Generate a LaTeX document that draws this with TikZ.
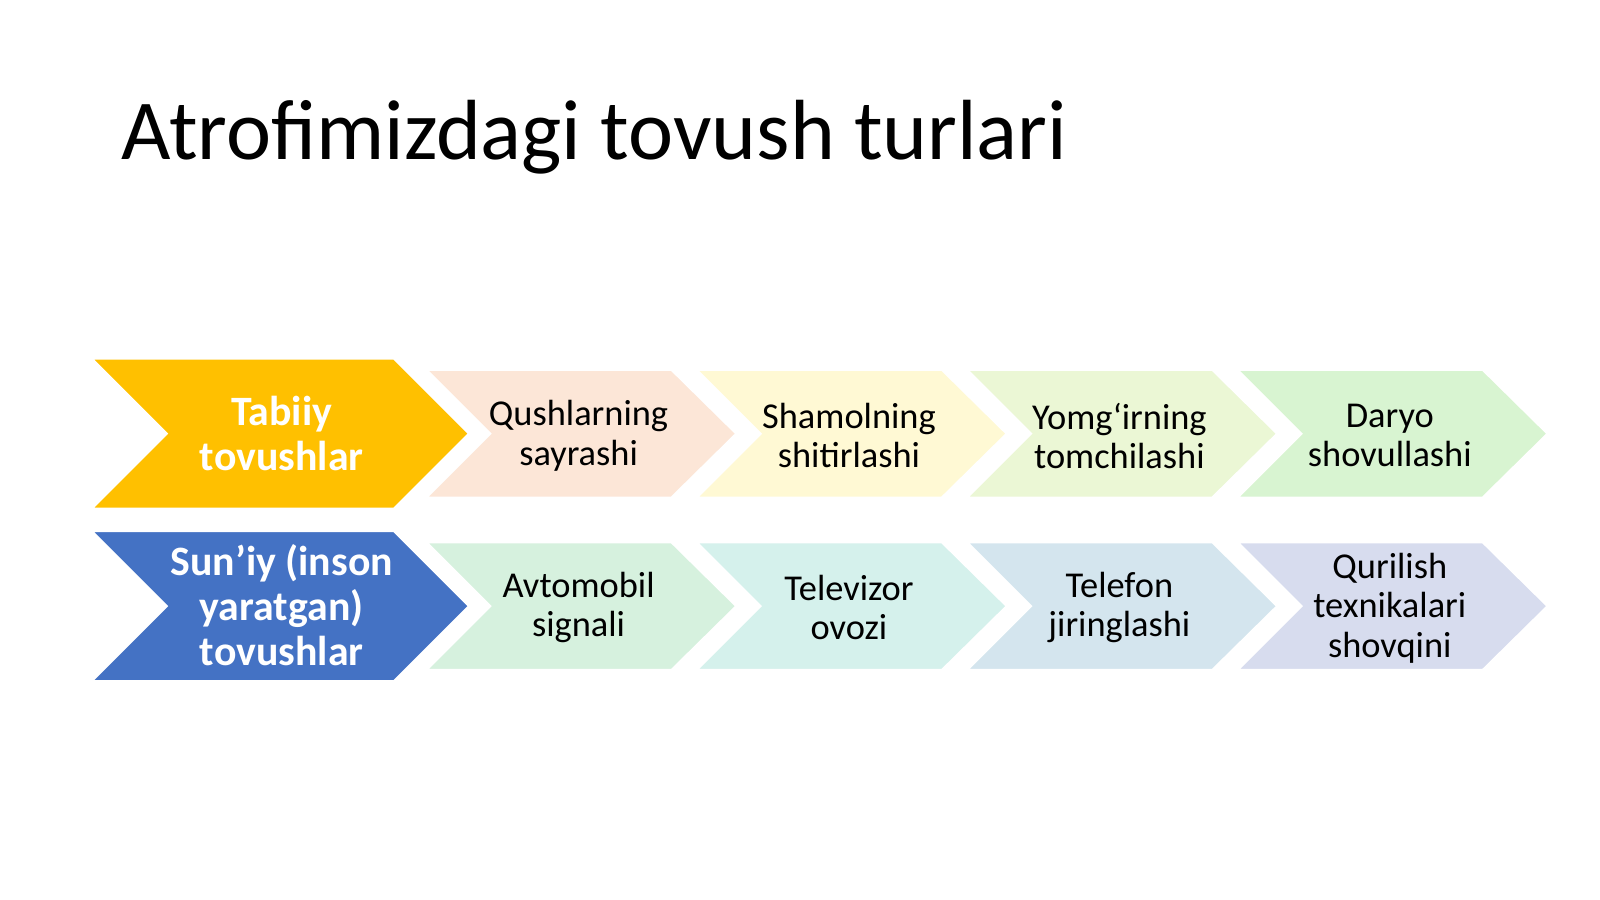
\documentclass[tikz,border=0pt]{standalone}
\usepackage{fontspec}
\setmainfont{Carlito}
\definecolor{gold}{HTML}{FFC000}
\definecolor{blueh}{HTML}{4472C4}
\definecolor{c1}{HTML}{FCE6D7}
\definecolor{c2}{HTML}{FFF9D4}
\definecolor{c3}{HTML}{EBF7D5}
\definecolor{c4}{HTML}{D8F4D1}
\definecolor{d1}{HTML}{D6F1DE}
\definecolor{d2}{HTML}{D5F1EC}
\definecolor{d3}{HTML}{D4E5EE}
\definecolor{d4}{HTML}{D7DCEE}
\tikzset{
  chev/.style={draw=white, line width=3.5pt, line join=miter},
  headtxt/.style={text=white, font=\bfseries\fontsize{20.9}{22.4}\selectfont, align=center, inner sep=0pt},
  itemtxt/.style={text=black, font=\fontsize{18.2}{19.6}\selectfont, align=center, inner sep=0pt},
}
\begin{document}
\begin{tikzpicture}[x=0.5102pt,y=-0.5102pt]
\useasboundingbox[fill=white] (0,0) rectangle (1568,881.05);
\node[anchor=base west, inner sep=0pt, font=\fontsize{42.7}{48}\selectfont] (title) at (119,156) {Atrofimizdagi tovush turlari};
% row 1 small chevrons
\foreach \L/\c in {412/c1,677/c2,942/c3,1207/c4}{
  \filldraw[chev, fill=\c] (\L,360) -- ({\L+247},360) -- ({\L+313},425) -- ({\L+247},490) -- (\L,490) -- ({\L+65},425) -- cycle;
}
% row 2 small chevrons
\foreach \L/\c in {412/d1,677/d2,942/d3,1207/d4}{
  \filldraw[chev, fill=\c] (\L,529) -- ({\L+247},529) -- ({\L+313},594) -- ({\L+247},659) -- (\L,659) -- ({\L+65},594) -- cycle;
}
% headers
\filldraw[chev, fill=gold] (84,349) -- (387,349) -- (463,425) -- (387,501) -- (84,501) -- (160,425) -- cycle;
\filldraw[chev, fill=blueh] (84,518) -- (387,518) -- (463,594) -- (387,670) -- (84,670) -- (160,594) -- cycle;
% texts
\node[headtxt] (h1) at (276,425) {Tabiiy\\tovushlar};
\node[headtxt] (h2) at (276,593) {Sun’iy (inson\\yaratgan)\\tovushlar};
\node[itemtxt] (a1) at (567,427) {Qushlarning\\sayrashi};
\node[itemtxt] (a2) at (832,427) {Shamolning\\shitirlashi};
\node[itemtxt] (a3) at (1097,427) {Yomg‘irning\\tomchilashi};
\node[itemtxt] (a4) at (1362,427) {Daryo\\shovullashi};
\node[itemtxt] (b1) at (567,595) {Avtomobil\\signali};
\node[itemtxt] (b2) at (832,595) {Televizor\\ovozi};
\node[itemtxt] (b3) at (1097,595) {Telefon\\jiringlashi};
\node[itemtxt] (b4) at (1362,596) {Qurilish\\texnikalari\\shovqini};
\end{tikzpicture}
\end{document}
